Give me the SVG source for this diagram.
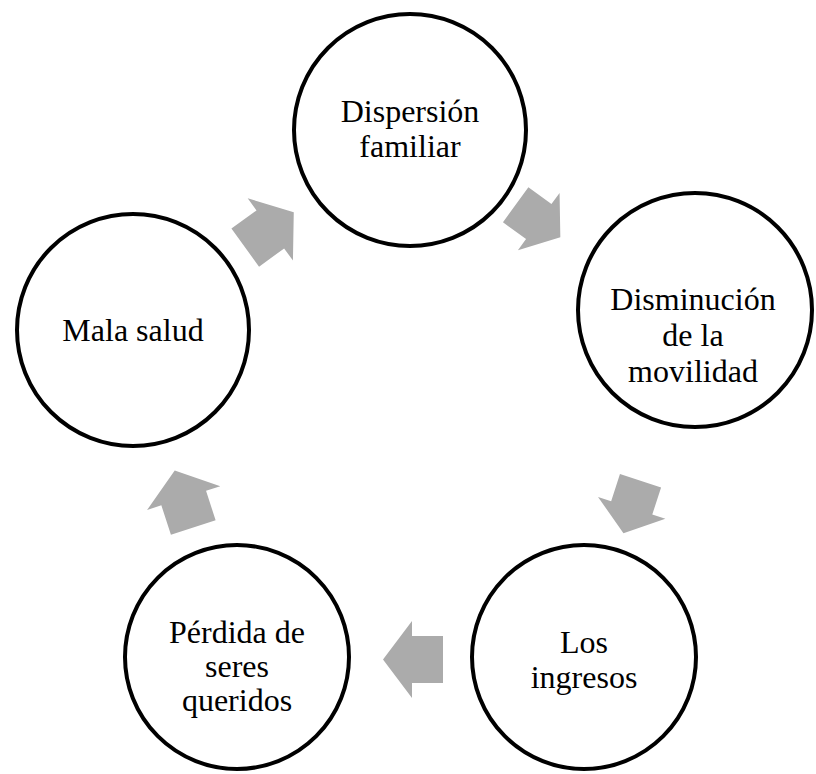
<svg xmlns="http://www.w3.org/2000/svg" width="816" height="774" viewBox="0 0 816 774">
<defs>
<style>
.node circle{fill:#fff;stroke:#000;stroke-width:4}
.node text{font-family:"Liberation Serif","Times New Roman",serif;font-size:32px;fill:#000;text-anchor:middle}
.arr{fill:#ABABAB}
</style>
<polygon id="arrow" class="arr" points="-30,-23.5 1,-23.5 1,-38.5 30,0 1,38.5 1,23.5 -30,23.5"/>
</defs>
<rect width="816" height="774" fill="#fff"/>
<g id="connectors">
<use href="#arrow" transform="translate(269.5,230) rotate(-36)"/>
<use href="#arrow" transform="translate(538,221) rotate(36) scale(0.92)"/>
<use href="#arrow" transform="translate(632,507) rotate(108) scale(0.92)"/>
<use href="#arrow" transform="translate(413,659.5) rotate(180)"/>
<use href="#arrow" transform="translate(184,499) rotate(252)"/>
</g>
<g id="node-dispersion" class="node">
<circle cx="410" cy="130" r="116"/>
<text x="410" y="122">Dispersión</text>
<text x="410" y="157">familiar</text>
</g>
<g id="node-movilidad" class="node">
<circle cx="695" cy="310" r="117"/>
<text x="693" y="310">Disminución</text>
<text x="693" y="346">de la</text>
<text x="693" y="382">movilidad</text>
</g>
<g id="node-ingresos" class="node">
<circle cx="584" cy="657" r="112"/>
<text x="584" y="653">Los</text>
<text x="584" y="688">ingresos</text>
</g>
<g id="node-perdida" class="node">
<circle cx="237" cy="657" r="112"/>
<text x="237" y="643">Pérdida de</text>
<text x="237" y="677">seres</text>
<text x="237" y="711">queridos</text>
</g>
<g id="node-mala-salud" class="node">
<circle cx="133" cy="330" r="116"/>
<text x="133" y="341">Mala salud</text>
</g>
</svg>
